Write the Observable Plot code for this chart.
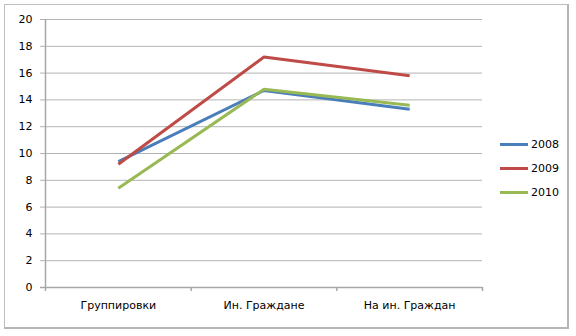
<!DOCTYPE html>
<html>
<head>
<meta charset="utf-8">
<script src="https://cdn.jsdelivr.net/npm/d3@7"></script>
<script src="https://cdn.jsdelivr.net/npm/@observablehq/plot@0.6"></script>
<style>
  html, body { margin: 0; padding: 0; background: #fff; }
  #wrap { position: relative; width: 576px; height: 336px; }
  #frame { position: absolute; left: 4px; top: 4px; width: 565px; height: 325px;
           border: 1px solid #bdbdbd; border-right: 2px solid #b5b5b5; border-bottom: 2px solid #b5b5b5; box-sizing: border-box; }
  #legend { position: absolute; left: 500px; top: 132px; font: 11px "DejaVu Sans", sans-serif; color: #000; }
  .item { display: flex; align-items: center; height: 24px; }
  .sw { width: 28px; height: 3px; margin-right: 3px; }
</style>
</head>
<body>
<div id="wrap"><div id="frame"></div></div>
<script>
const categories = ["Группировки", "Ин. Граждане", "На ин. Граждан"];
const years = ["2008", "2009", "2010"];
const colors = ["#4a7ebb", "#be4b48", "#98b954"];
const values2008 = [9.4, 14.7, 13.3];
const values2009 = [9.2, 17.2, 15.8];
const values2010 = [7.4, 14.8, 13.6];
const yTicks = [0, 2, 4, 6, 8, 10, 12, 14, 16, 18, 20];

const series = [values2008, values2009, values2010];
const data = [];
series.forEach((vals, s) => vals.forEach((v, i) => data.push({year: years[s], i, value: v})));
const idx = categories.map((_, i) => i);
const bounds = [-0.5, ...idx.map(i => i + 0.5)];

const chart = Plot.plot({
  width: 576,
  height: 336,
  marginLeft: 45,
  marginRight: 94,
  marginTop: 19,
  marginBottom: 49,
  style: {fontFamily: "DejaVu Sans, sans-serif", fontSize: "11px", background: "transparent", color: "#000"},
  x: {type: "linear", domain: [-0.5, categories.length - 0.5]},
  y: {domain: [0, 20]},
  color: {domain: years, range: colors},
  marks: [
    Plot.gridY(yTicks, {stroke: "#b3b3b3", strokeOpacity: 1, strokeWidth: 1, insetLeft: -5}),
    Plot.axisY({ticks: yTicks, tickSize: 0, tickPadding: 13, label: null, fontSize: 11}),
    Plot.ruleX([-0.5], {stroke: "#a6a6a6", strokeWidth: 1.5}),
    Plot.ruleY([0], {stroke: "#a6a6a6", strokeWidth: 1.5, insetLeft: -5}),
    Plot.axisX({ticks: bounds, tickSize: 4, tickFormat: () => "", stroke: "#a6a6a6", strokeWidth: 1.5, label: null}),
    Plot.axisX({ticks: idx, tickSize: 0, tickPadding: 14, tickFormat: i => categories[i], label: null, fontSize: 11}),
    Plot.line(data, {x: "i", y: "value", z: "year", stroke: "year", strokeWidth: 3, strokeLinejoin: "round", strokeLinecap: "butt"})
  ]
});
const wrap = document.getElementById("wrap");
chart.style.position = "absolute";
chart.style.left = "0";
chart.style.top = "0";
wrap.appendChild(chart);

const legend = document.createElement("div");
legend.id = "legend";
years.forEach((y, k) => {
  const it = document.createElement("div");
  it.className = "item";
  const sw = document.createElement("div");
  sw.className = "sw";
  sw.style.background = colors[k];
  const t = document.createElement("span");
  t.textContent = y;
  it.appendChild(sw); it.appendChild(t);
  legend.appendChild(it);
});
wrap.appendChild(legend);
</script>
</body>
</html>
